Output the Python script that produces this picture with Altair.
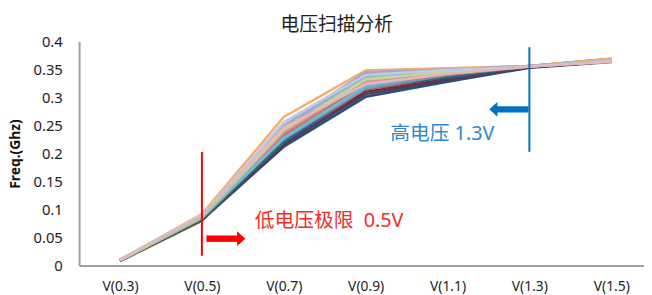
import altair as alt
import pandas as pd

# ---- data ----
voltages = [0.3, 0.5, 0.7, 0.9, 1.1, 1.3, 1.5]

series_values = [
    [0.009, 0.082, 0.214, 0.302, 0.330, 0.354, 0.364],
    [0.009, 0.083, 0.222, 0.314, 0.337, 0.355, 0.366],
    [0.008, 0.080, 0.228, 0.334, 0.342, 0.356, 0.367],
    [0.009, 0.084, 0.232, 0.340, 0.346, 0.355, 0.365],
    [0.009, 0.083, 0.225, 0.322, 0.345, 0.355, 0.364],
    [0.010, 0.086, 0.236, 0.330, 0.344, 0.356, 0.368],
    [0.009, 0.081, 0.212, 0.301, 0.328, 0.353, 0.363],
    [0.009, 0.082, 0.216, 0.310, 0.333, 0.354, 0.364],
    [0.008, 0.080, 0.224, 0.326, 0.339, 0.355, 0.366],
    [0.009, 0.082, 0.218, 0.306, 0.331, 0.354, 0.364],
    [0.009, 0.083, 0.220, 0.318, 0.336, 0.355, 0.365],
    [0.009, 0.084, 0.230, 0.327, 0.343, 0.356, 0.369],
    [0.009, 0.085, 0.226, 0.316, 0.340, 0.355, 0.365],
    [0.010, 0.086, 0.234, 0.322, 0.341, 0.355, 0.366],
    [0.009, 0.085, 0.240, 0.336, 0.347, 0.356, 0.367],
    [0.010, 0.088, 0.244, 0.343, 0.349, 0.356, 0.366],
    [0.009, 0.086, 0.228, 0.320, 0.345, 0.356, 0.365],
    [0.010, 0.092, 0.265, 0.348, 0.352, 0.356, 0.369],
    [0.010, 0.089, 0.248, 0.338, 0.348, 0.355, 0.365],
    [0.010, 0.088, 0.238, 0.328, 0.344, 0.355, 0.366],
    [0.009, 0.087, 0.242, 0.332, 0.346, 0.356, 0.367],
    [0.010, 0.089, 0.250, 0.345, 0.350, 0.356, 0.366],
    [0.010, 0.090, 0.256, 0.340, 0.349, 0.355, 0.365],
    [0.011, 0.091, 0.246, 0.324, 0.342, 0.355, 0.363],
]

series_colors = [
    "#4F81BD", "#C0504D", "#9BBB59", "#8064A2", "#4BACC6", "#F79646",
    "#2C4D75", "#772C2A", "#5F7530", "#4D3B62", "#276A7C", "#B65708",
    "#729ACA", "#CD7371", "#AFC97A", "#9983B5", "#6FBDD1", "#F9AB6B",
    "#95B3D7", "#D99694", "#C3D69B", "#B3A2C7", "#B9CDE5", "#E6B9B8",
]

title_text = "电压扫描分析"
y_title = "Freq.(Ghz)"
y_ticks = [0, 0.05, 0.1, 0.15, 0.2, 0.25, 0.3, 0.35, 0.4]

# annotations (in data units)
low_label = "低电压极限\u00a0\u00a00.5V"
high_label = "高电压 1.3V"
low_line = {"x": 0.5, "y": 0.0176, "y2": 0.2025}
high_line = {"x": 1.3, "y": 0.203, "y2": 0.3896}
low_arrow_shaft = {"x": 0.511, "x2": 0.588, "y": 0.048}
low_arrow_head = {"x": 0.596, "y": 0.048}
high_arrow_shaft = {"x": 1.217, "x2": 1.298, "y": 0.2787}
high_arrow_head = {"x": 1.212, "y": 0.2787}
low_text_pos = {"x": 0.629, "y": 0.079}
high_text_pos = {"x": 0.96, "y": 0.235}

RED = "#FF0000"
BLUE = "#0070C0"
FONT = "Noto Sans, Noto Sans CJK SC"

# ---- build table ----
names = [f"S{i+1:02d}" for i in range(len(series_values))]
rows = []
for name, vals in zip(names, series_values):
    for v, f in zip(voltages, vals):
        rows.append({"series": name, "volt": v, "freq": f})
df = pd.DataFrame(rows)

xscale = alt.Scale(domain=[0.2, 1.58], nice=False, zero=False)
yscale = alt.Scale(domain=[0, 0.4], nice=False)

x_axis = alt.Axis(values=voltages, title=None, ticks=False, grid=False,
                  labelExpr="'V(' + format(datum.value, '.1f') + ')'",
                  labelPadding=14, labelFontSize=14, labelColor="#222",
                  labelFont=FONT, labelOverlap=False,
                  domainColor="#A0A0A0", domainWidth=2)
y_axis = alt.Axis(values=y_ticks, format="~g", title=y_title, ticks=False,
                  grid=False, labelPadding=17, labelFontSize=15,
                  labelOverlap=False, labelBound=False,
                  labelColor="#222", labelFont=FONT,
                  titleFont=FONT, titleFontSize=14, titleFontWeight="bold",
                  titleColor="#111", titlePadding=11,
                  domainColor="#A0A0A0", domainWidth=2)

X_ = lambda f: alt.X(f, scale=xscale, axis=x_axis)
Y_ = lambda f: alt.Y(f, scale=yscale, axis=y_axis)

lines = alt.Chart(df).mark_line(strokeWidth=2.5).encode(
    x=X_("volt:Q"),
    y=Y_("freq:Q"),
    color=alt.Color("series:N", scale=alt.Scale(domain=names, range=series_colors),
                    legend=None),
    detail="series:N",
)

def rule_layer(d, color, width):
    return alt.Chart(pd.DataFrame([d])).mark_rule(color=color, strokeWidth=width).encode(
        x=X_("x:Q"), y=Y_("y:Q"), y2="y2:Q")

def shaft_layer(d, color):
    return alt.Chart(pd.DataFrame([d])).mark_rule(color=color, strokeWidth=6.5).encode(
        x=X_("x:Q"), x2="x2:Q", y=Y_("y:Q"))

def head_layer(d, color, path):
    return alt.Chart(pd.DataFrame([d])).mark_point(
        shape=path, filled=True, color=color, opacity=1, size=225, strokeWidth=0
    ).encode(x=X_("x:Q"), y=Y_("y:Q"))

def text_layer(d, label, color):
    dd = dict(d)
    dd["label"] = label
    return alt.Chart(pd.DataFrame([dd])).mark_text(
        align="left", baseline="middle", fontSize=20, font=FONT, color=color
    ).encode(x=X_("x:Q"), y=Y_("y:Q"), text="label:N")

right_tri = "M-0.55,-1L0.55,0L-0.55,1Z"
left_tri = "M0.55,-1L-0.55,0L0.55,1Z"

chart = alt.layer(
    lines,
    rule_layer(low_line, RED, 2),
    rule_layer(high_line, BLUE, 2),
    shaft_layer(low_arrow_shaft, RED),
    head_layer(low_arrow_head, RED, right_tri),
    shaft_layer(high_arrow_shaft, BLUE),
    head_layer(high_arrow_head, BLUE, left_tri),
    text_layer(low_text_pos, low_label, "#F62A2A"),
    text_layer(high_text_pos, high_label, "#2E88CF"),
).properties(
    width=572, height=227,
    padding={"left": 0, "top": 6, "right": 0, "bottom": 0},
    title=alt.TitleParams(title_text, font="Noto Sans CJK SC", fontSize=19,
                          fontWeight="normal", color="#222", dx=-25, offset=0),
).configure_view(stroke=None).configure_axis(labelOverlap=False)

chart.save("out.html", embed_options={"renderer": "svg", "actions": False})
